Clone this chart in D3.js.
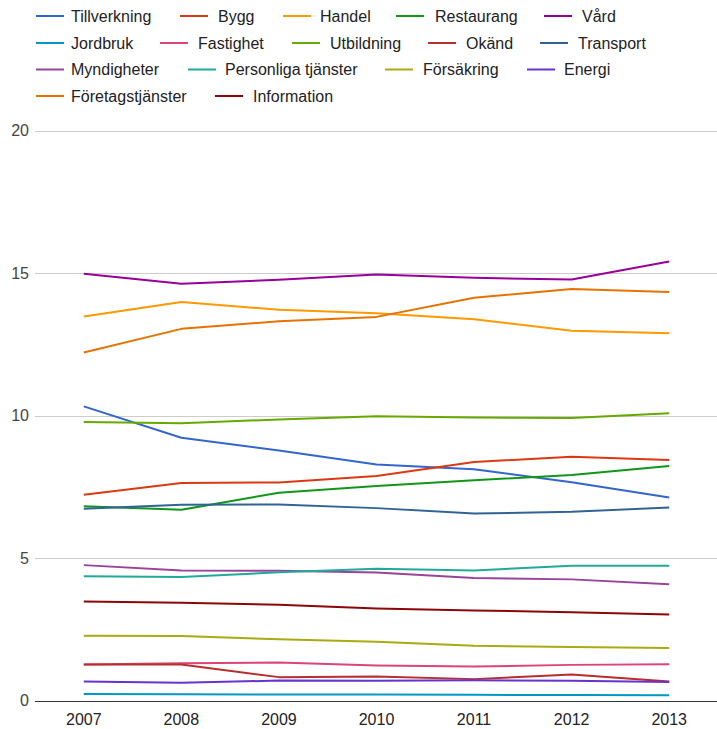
<!DOCTYPE html>
<html><head><meta charset="utf-8">
<script src="https://cdn.jsdelivr.net/npm/d3@7"></script>
<style>html,body{margin:0;padding:0;background:#fff;}svg{display:block;font-family:Arial,"Liberation Sans",sans-serif;}</style>
</head><body>
<script>
const years = ["2007","2008","2009","2010","2011","2012","2013"];
const seriesNames = ["Tillverkning","Bygg","Handel","Restaurang","Vård","Jordbruk","Fastighet","Utbildning","Okänd","Transport","Myndigheter","Personliga tjänster","Försäkring","Energi","Företagstjänster","Information"];
const colors = ["#3366cc","#dc3912","#ff9900","#109618","#990099","#0099c6","#dd4477","#66aa00","#b82e2e","#316395","#994499","#22aa99","#aaaa11","#6633cc","#e67300","#8b0707"];
const tillverkning = [10.32,9.22,8.77,8.28,8.11,7.66,7.12];
const bygg = [7.22,7.63,7.65,7.88,8.37,8.55,8.44];
const handel = [13.47,13.98,13.71,13.59,13.38,12.97,12.89];
const restaurang = [6.82,6.69,7.29,7.53,7.73,7.91,8.23];
const vard = [14.97,14.62,14.76,14.95,14.83,14.77,15.40];
const jordbruk = [0.23,0.22,0.21,0.21,0.20,0.19,0.18];
const fastighet = [1.26,1.31,1.33,1.23,1.19,1.25,1.27];
const utbildning = [9.77,9.73,9.86,9.97,9.93,9.91,10.08];
const okand = [1.26,1.26,0.82,0.84,0.75,0.91,0.67];
const transport = [6.73,6.87,6.88,6.75,6.56,6.62,6.77];
const myndigheter = [4.75,4.56,4.55,4.49,4.30,4.25,4.08];
const personliga = [4.36,4.33,4.50,4.62,4.56,4.73,4.73];
const forsakring = [2.27,2.26,2.15,2.06,1.92,1.88,1.84];
const energi = [0.67,0.62,0.70,0.69,0.71,0.69,0.65];
const foretagstjanster = [12.21,13.04,13.31,13.46,14.13,14.44,14.33];
const information = [3.47,3.43,3.36,3.23,3.16,3.10,3.02];
const yTicks = [0,5,10,15,20];
const seriesValues = [tillverkning,bygg,handel,restaurang,vard,jordbruk,fastighet,utbildning,okand,transport,myndigheter,personliga,forsakring,energi,foretagstjanster,information];

// legend rows: [index, lineX, textX]
const legendRows = [
  [[0,36,71],[1,180,218],[2,283,320],[3,396,435],[4,544,582]],
  [[5,36,71],[6,160,198],[7,292,330],[8,428,466],[9,540,578]],
  [[10,36,71],[11,188,225],[12,385,423],[13,527,564]],
  [[14,36,71],[15,215,253]]
];
const legendY = [16,43,69.5,96];

const W=717,H=729;
const svg = d3.select("body").append("svg").attr("width",W).attr("height",H);
const x = d3.scalePoint().domain(years).range([35,718]).padding(0.5);
const y = d3.scaleLinear().domain([0,20]).range([700.5,130.5]);

// gridlines
svg.append("g").selectAll("line").data(yTicks.filter(d=>d>0)).join("line")
  .attr("x1",35).attr("x2",717).attr("y1",d=>Math.round(y(d))+0.5).attr("y2",d=>Math.round(y(d))+0.5)
  .attr("stroke","#cccccc").attr("stroke-width",1);

// y labels
svg.append("g").selectAll("text").data(yTicks).join("text")
  .attr("x",29).attr("y",d=>y(d)).attr("dy","0.36em").attr("text-anchor","end")
  .attr("font-size",16).attr("fill","#444").text(d=>d);

// x labels
svg.append("g").selectAll("text").data(years).join("text")
  .attr("x",d=>x(d)).attr("y",725).attr("text-anchor","middle")
  .attr("font-size",16).attr("fill","#222").text(d=>d);

// lines
const line = d3.line().x((d,i)=>x(years[i])).y(d=>y(d));
svg.append("g").selectAll("path").data(seriesValues).join("path")
  .attr("d",d=>line(d)).attr("fill","none")
  .attr("stroke",(d,i)=>colors[i]).attr("stroke-width",2).attr("stroke-linejoin","round");

// baseline
svg.append("line").attr("x1",35).attr("x2",717).attr("y1",Math.round(y(0))+0.5).attr("y2",Math.round(y(0))+0.5)
  .attr("stroke","#333").attr("stroke-width",1);

// legend
const lg = svg.append("g");
legendRows.forEach((row,r)=>{
  row.forEach(([idx,lx,tx])=>{
    lg.append("line").attr("x1",lx).attr("x2",lx+28).attr("y1",legendY[r]).attr("y2",legendY[r])
      .attr("stroke",colors[idx]).attr("stroke-width",2);
    lg.append("text").attr("x",tx).attr("y",legendY[r]).attr("dy","0.36em")
      .attr("font-size",16).attr("fill","#222").text(seriesNames[idx]);
  });
});
</script>
</body></html>
